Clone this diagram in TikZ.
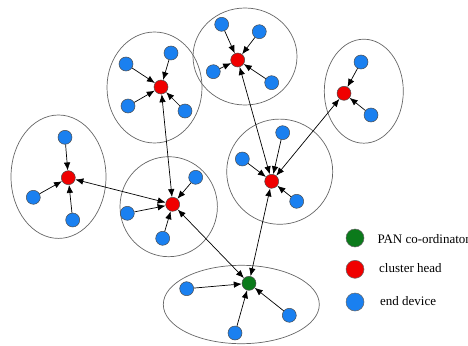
\documentclass[tikz,border=0pt]{standalone}
\usepackage{fontspec}
\setmainfont{Liberation Serif}
\usetikzlibrary{arrows.meta}
\definecolor{devblue}{RGB}{26,128,240}
\definecolor{headred}{RGB}{240,0,0}
\definecolor{pangreen}{RGB}{11,122,27}
\tikzset{
  dev/.style={circle,draw=black!70,line width=0.5pt,fill=devblue,minimum size=14pt,inner sep=0pt},
  head/.style={circle,draw=black!70,line width=0.5pt,fill=headred,minimum size=14pt,inner sep=0pt},
  pan/.style={circle,draw=black!70,line width=0.5pt,fill=pangreen,minimum size=14pt,inner sep=0pt},
  legdot/.style={circle,draw=black!60,line width=0.5pt,minimum size=18pt,inner sep=0pt},
  cluster/.style={draw=black!60,line width=0.7pt},
  link/.style={-{Latex[length=8pt,width=6.5pt]},line width=0.7pt,black},
  dlink/.style={{Latex[length=8pt,width=6.5pt]}-{Latex[length=8pt,width=6.5pt]},line width=0.7pt,black},
  legtext/.style={anchor=base west,font=\fontsize{13}{15}\selectfont,inner sep=0pt}
}
\begin{document}
\begin{tikzpicture}[x=1pt,y=-1pt]
\useasboundingbox (0,0) rectangle (468,345);
\clip (0,0) rectangle (468,345);
% cluster ellipses
\draw[cluster] (154.5,87.5) ellipse [x radius=47.5,y radius=55.5];
\draw[cluster] (245,56.5) ellipse [x radius=52,y radius=48.5];
\draw[cluster] (363.8,91.2) ellipse [x radius=39.5,y radius=52];
\draw[cluster] (279.7,171.7) ellipse [x radius=53,y radius=52.6];
\draw[cluster] (58.5,176.7) ellipse [x radius=47.5,y radius=61.7];
\draw[cluster] (168.7,206.7) ellipse [x radius=48.7,y radius=50];
\draw[cluster] (241.3,304.5) ellipse [x radius=78,y radius=39.2];
% cluster 1
\node[head] (h1) at (161,87) {};
\node[dev] (a1) at (126,64) {};
\node[dev] (a2) at (171,53) {};
\node[dev] (a3) at (128,106) {};
\node[dev] (a4) at (185,111) {};
% cluster 2
\node[head] (h2) at (237.7,60) {};
\node[dev] (b1) at (221.7,24.3) {};
\node[dev] (b2) at (259.3,31.7) {};
\node[dev] (b3) at (213.3,71.7) {};
\node[dev] (b4) at (271.7,82.7) {};
% cluster 3
\node[head] (h3) at (344,93.3) {};
\node[dev] (c1) at (361,62) {};
\node[dev] (c2) at (371,115) {};
% cluster 4
\node[head] (h4) at (271.7,181.3) {};
\node[dev] (d1) at (282.7,132.7) {};
\node[dev] (d2) at (242.3,159) {};
\node[dev] (d3) at (296.7,201.3) {};
% cluster 5
\node[head] (h5) at (68.3,177.7) {};
\node[dev] (e1) at (65,137.3) {};
\node[dev] (e2) at (33.3,197.3) {};
\node[dev] (e3) at (72.7,220) {};
% cluster 6
\node[head] (h6) at (172.7,204.3) {};
\node[dev] (f1) at (195.7,177.3) {};
\node[dev] (f2) at (127.3,213.3) {};
\node[dev] (f3) at (162.7,238.3) {};
% PAN cluster
\node[pan] (p) at (249,283.3) {};
\node[dev] (g1) at (186.7,288.7) {};
\node[dev] (g2) at (235,333) {};
\node[dev] (g3) at (289.3,315.3) {};
% intra-cluster links
\foreach \s in {a1,a2,a3,a4} \draw[link] (\s) -- (h1);
\foreach \s in {b1,b2,b3,b4} \draw[link] (\s) -- (h2);
\foreach \s in {c1,c2} \draw[link] (\s) -- (h3);
\foreach \s in {d1,d2,d3} \draw[link] (\s) -- (h4);
\foreach \s in {e1,e2,e3} \draw[link] (\s) -- (h5);
\foreach \s in {f1,f2,f3} \draw[link] (\s) -- (h6);
\foreach \s in {g1,g2,g3} \draw[link] (\s) -- (p);
% inter-cluster links
\draw[dlink] (h1) -- (h6);
\draw[dlink] (h5) -- (h6);
\draw[dlink] (h6) -- (p);
\draw[dlink] (h2) -- (h4);
\draw[dlink] (h3) -- (h4);
\draw[dlink] (h4) -- (p);
% legend
\node[legdot,fill=pangreen] (lg) at (355,238) {};
\node[legdot,fill=headred] (lr) at (355,269.3) {};
\node[legdot,fill=devblue] (lb) at (355,302) {};
\node[legtext] (tg) at (377.3,243) {PAN co-ordinator};
\node[legtext] (tr) at (379,272) {cluster head};
\node[legtext] (tb) at (380,305.5) {end device};
\end{tikzpicture}
\end{document}
